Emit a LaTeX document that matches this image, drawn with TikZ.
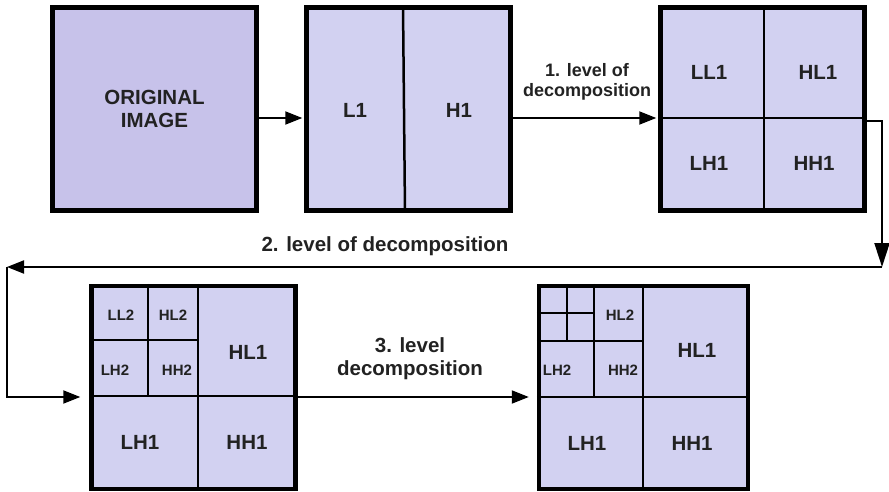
\documentclass[tikz,border=0pt]{standalone}
\usepackage{fontspec}
\setmainfont{Liberation Sans}
\usepackage{tikz}
\usetikzlibrary{arrows.meta,positioning}
\definecolor{origfill}{RGB}{199,194,234}
\definecolor{subfill}{RGB}{210,209,241}
\definecolor{txt}{RGB}{34,34,34}
\tikzstyle{box} = [rectangle, draw=black, fill=subfill, line width=4.5pt, minimum width=204pt, minimum height=203pt, inner sep=0pt]
\tikzstyle{div} = [black, line width=2.5pt]
\tikzstyle{arr} = [black, line width=2pt, -{Triangle[length=17pt,width=13pt]}]
\tikzstyle{big} = [txt, font=\fontsize{20.5}{23}\selectfont\bfseries, align=center]
\tikzstyle{small} = [txt, font=\fontsize{15}{17}\selectfont\bfseries]

\begin{document}
\begin{tikzpicture}[x=1pt,y=-1pt]
		\useasboundingbox (0,0) rectangle (889,492);

		\begin{scope}[every node/.style={box}]
			\node[fill=origfill] (orig) at (154.5,109) {};
			\node (lh) at (408.5,109) {};
			\node (ll) at (762.5,109) {};
			\node (lv2) at (193.5,387.5) {};
			\node[minimum width=209pt] (lv3) at (643.5,387.5) {};
		\end{scope}

		% dividers
		\draw[div] (lh.north -| 403,0) -- (lh.south -| 405,0);
		\draw[div] (ll.north -| 764,0) -- (ll.south -| 764,0);
		\draw[div] (ll.west |- 0,118) -- (ll.east |- 0,118);

		\draw[div] (lv2.north -| 198,0) -- (lv2.south -| 198,0);
		\draw[div] (lv2.west |- 0,396) -- (lv2.east |- 0,396);
		\draw[div] (lv2.north -| 148,0) -- (148,396);
		\draw[div] (lv2.west |- 0,340) -- (198,340);

		\draw[div] (lv3.north -| 643,0) -- (lv3.south -| 643,0);
		\draw[div] (lv3.west |- 0,397) -- (lv3.east |- 0,397);
		\draw[div] (lv3.north -| 594,0) -- (594,397);
		\draw[div] (lv3.west |- 0,341) -- (643,341);
		\draw[div] (lv3.north -| 567,0) -- (567,341);
		\draw[div] (lv3.west |- 0,313) -- (594,313);

		\begin{scope}[every node/.style={big}]
			\node (tOrig) at (154.5,109) {ORIGINAL\\IMAGE};
			\node (tL1) at (355,110) {L1};
			\node (tH1) at (459,110) {H1};
			\node (tLL1) at (709,72) {LL1};
			\node (tHL1) at (818,72) {HL1};
			\node (tLH1) at (709,163) {LH1};
			\node (tHH1) at (814,163) {HH1};

			\node (aHL1) at (248,352) {HL1};
			\node (aLH1) at (140,442) {LH1};
			\node (aHH1) at (247,442) {HH1};
			\node (bHL1) at (697,350) {HL1};
			\node (bLH1) at (587,443) {LH1};
			\node (bHH1) at (692,443) {HH1};

			\node[font=\fontsize{18}{20}\selectfont\bfseries] (lbl1) at (587,82) {1. level of\\decomposition};
			\node (lbl2) at (385,246) {2. level of decomposition};
			\node (lbl3) at (410,359) {3. level\\decomposition};
		\end{scope}

		\begin{scope}[every node/.style={small}]
			\node (aLL2) at (121,315) {LL2};
			\node (aHL2) at (173,315) {HL2};
			\node (aLH2) at (115,370) {LH2};
			\node (aHH2) at (177,370) {HH2};
			\node (bHL2) at (620,315) {HL2};
			\node (bLH2) at (557,370) {LH2};
			\node (bHH2) at (623,370) {HH2};
		\end{scope}

		% connectors
		\coordinate (turnR) at (882,267);
		\coordinate (turnL) at (7,267);
		\draw[arr, shorten >=2pt] (orig.east |- 0,118) -- (lh.west |- 0,118);
		\draw[arr, shorten >=2pt] (lh.east |- 0,118) -- (ll.west |- 0,118);
		\draw[arr, -{Triangle[length=24pt,width=15pt]}] (ll.east |- 0,121) -| (turnR);
		\draw[arr] (turnR) -- (turnL);
		\draw[arr, shorten >=9pt] (turnL) |- (lv2.west |- 0,397);
		\draw[arr, shorten >=8pt] (lv2.east |- 0,397) -- (lv3.west |- 0,397);
	\end{tikzpicture}
\end{document}
